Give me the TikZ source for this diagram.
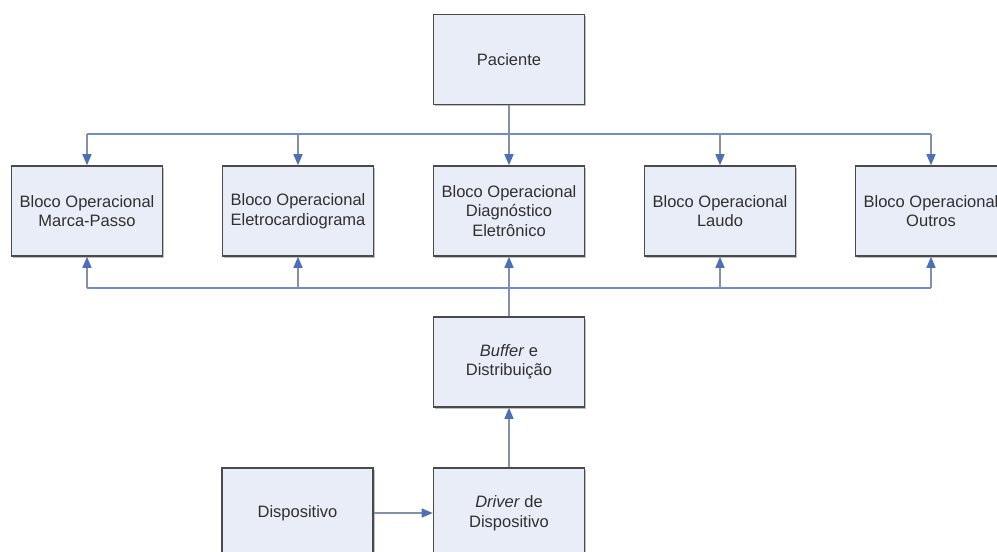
\documentclass[tikz,border=0pt]{standalone}
\usepackage{fontspec}
\setmainfont{Liberation Sans}
\usetikzlibrary{arrows.meta,shadows}
\definecolor{boxfill}{HTML}{E8EDF7}
\definecolor{boxline}{HTML}{4A4A4A}
\definecolor{busblue}{HTML}{6C8CCB}
\definecolor{busgray}{HTML}{8490AA}
\definecolor{tipblue}{HTML}{4C6FB6}
\definecolor{txt}{HTML}{303030}
\begin{document}
\begin{tikzpicture}[x=1pt,y=-1pt,
  blk/.style={draw=boxline, line width=1.6pt, fill=boxfill,
    minimum width=151pt, minimum height=90pt, inner sep=0pt,
    align=center, text=txt, font=\fontsize{16.5}{19.5}\selectfont,
    drop shadow={shadow xshift=1.8pt, shadow yshift=-1.8pt, fill=gray, opacity=0.5}},
  feed/.style={draw=busgray, line width=1.5pt,
    -{Triangle[length=11pt,width=9pt,color=tipblue]}},
  bus/.style={draw=busblue, line width=1.5pt},
  plain/.style={draw=busgray, line width=1.5pt}
]
\clip (0,0) rectangle (997,552);
\fill[white] (0,0) rectangle (997,552);

% patient and the five operational blocks
\node[blk] (pac) at (509,59.5) {Paciente};
\node[blk] (b1) at (87,211) {Bloco Operacional\\Marca-Passo};
\node[blk] (b2) at (298,211) {Bloco Operacional\\Eletrocardiograma};
\node[blk] (b3) at (509,211) {Bloco Operacional\\Diagnóstico\\Eletrônico};
\node[blk] (b4) at (720,211) {Bloco Operacional\\Laudo};
\node[blk] (b5) at (931,211) {Bloco Operacional\\Outros};

% buffer, driver and device
\node[blk] (buf) at (509,362) {\textit{Buffer} e\\Distribuição};
\node[blk] (drv) at (509,513) {\textit{Driver} de\\Dispositivo};
\node[blk] (disp) at (297.5,513) {Dispositivo};

% bus lines
\coordinate (tbus) at (509,134);
\coordinate (bbus) at (509,288);

% upper bus: patient feeds every block
\draw[plain] (pac.south) -- (tbus);
\draw[bus] (b1.north |- tbus) -- (b5.north |- tbus);
\foreach \b in {b1,b2,b3,b4,b5}
  \draw[feed] (\b.north |- tbus) -- (\b.north);

% lower bus: buffer distributes to every block
\draw[plain] (buf.north) -- (bbus);
\draw[bus] (b1.south |- bbus) -- (b5.south |- bbus);
\foreach \b in {b1,b2,b3,b4,b5}
  \draw[feed] (\b.south |- bbus) -- (\b.south);

% device chain
\draw[feed] (drv.north) -- (buf.south);
\draw[feed] (disp.east) -- (drv.west);
\end{tikzpicture}
\end{document}
